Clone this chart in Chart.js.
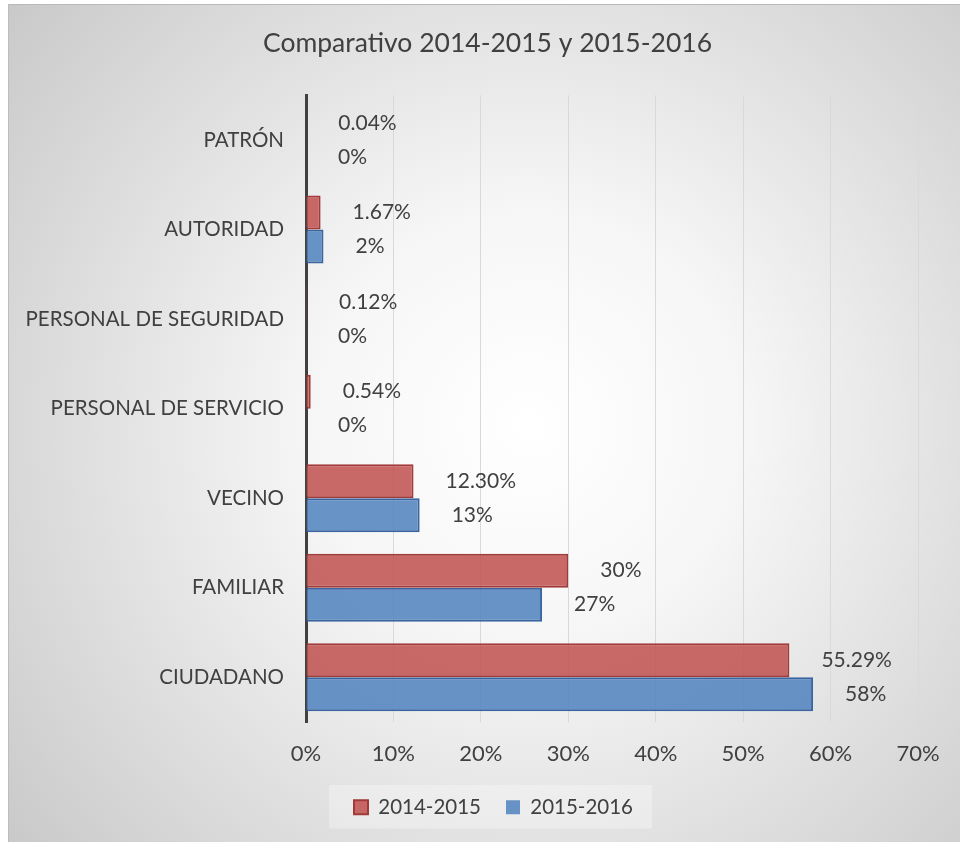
<!DOCTYPE html>
<html lang="es">
<head>
<meta charset="utf-8">
<title>Comparativo 2014-2015 y 2015-2016</title>
<script src="https://cdn.jsdelivr.net/npm/chart.js@4.4.1/dist/chart.umd.min.js"></script>
<style>
  html, body { margin: 0; padding: 0; background: #fff; }
  #wrap {
    position: absolute;
    left: 8px;
    top: 4px;
    width: 952px;
    height: 838px;
    border-top: 1px solid #b9b9b9;
    border-left: 1px solid #bdbdbd;
    box-sizing: border-box;
  }
</style>
</head>
<body>
<div id="wrap"><canvas id="myChart"></canvas></div>
<script>
const categories = ['PATRÓN', 'AUTORIDAD', 'PERSONAL DE SEGURIDAD', 'PERSONAL DE SERVICIO', 'VECINO', 'FAMILIAR', 'CIUDADANO'];
const values2014 = [0.04, 1.67, 0.12, 0.54, 12.30, 30, 55.29];
const values2015 = [0, 2, 0, 0, 13, 27, 58];
const xTicks = [0, 10, 20, 30, 40, 50, 60, 70];

const textColor = '#404040';
const fontFamily = 'Lato, "Open Sans", sans-serif';

function pct(v) {
  return (Number.isInteger(v) ? v : v.toFixed(2)) + '%';
}

// centre title and legend on the whole frame rather than on the space left of the right padding
const recenter = {
  id: 'recenter',
  afterLayout(chart) {
    const move = (box, dx) => {
      if (!box) return;
      box.left += dx;
      box.right += dx;
    };
    move(chart.titleBlock, 24);
    move(chart.legend, 30);
    (chart.legend.legendHitBoxes || []).forEach(b => { b.left += 30; });
  }
};

// soft grey radial fill behind everything, plus the legend panel
const backdrop = {
  id: 'backdrop',
  beforeDraw(chart) {
    const { ctx, width, height } = chart;
    ctx.save();
    const g = ctx.createRadialGradient(520, 420, 0, 520, 420, 720);
    g.addColorStop(0, '#ffffff');
    g.addColorStop(0.3, '#f6f6f6');
    g.addColorStop(1, '#c4c4c4');
    ctx.fillStyle = g;
    ctx.fillRect(0, 0, width, height);

    const boxes = chart.legend.legendHitBoxes;
    if (boxes && boxes.length) {
      const minX = Math.min(...boxes.map(b => b.left));
      const maxX = Math.max(...boxes.map(b => b.left + b.width));
      const top = boxes[0].top;
      const h = boxes[0].height;
      ctx.fillStyle = 'rgba(255,255,255,0.3)';
      ctx.fillRect(minX - 25, top - 12, maxX - minX + 44, h + 23);
    }
    ctx.restore();
  }
};

// value labels to the right of each bar
const barLabels = {
  id: 'barLabels',
  afterDatasetsDraw(chart) {
    const { ctx } = chart;
    ctx.save();
    ctx.font = '21px ' + fontFamily;
    ctx.fillStyle = textColor;
    ctx.textAlign = 'left';
    ctx.textBaseline = 'middle';
    chart.data.datasets.forEach((ds, i) => {
      chart.getDatasetMeta(i).data.forEach((bar, j) => {
        ctx.fillText(pct(ds.data[j]), bar.x + 32, bar.y);
      });
    });
    ctx.restore();
  }
};

function generateChart() {
  const ctx = document.getElementById('myChart');

  new Chart(ctx, {
    type: 'bar',
    data: {
      labels: categories,
      datasets: [{
        label: '2014-2015',
        data: values2014,
        backgroundColor: 'rgba(192, 80, 77, 0.85)',
        borderColor: '#a13a38',
        borderWidth: c => (c.raw ? 2 : 0),
        borderSkipped: 'start'
      }, {
        label: '2015-2016',
        data: values2015,
        backgroundColor: 'rgba(79, 129, 189, 0.85)',
        borderColor: '#3a65a0',
        borderWidth: c => (c.raw ? 2 : 0),
        borderSkipped: 'start'
      }]
    },
    options: {
      indexAxis: 'y',
      responsive: true,
      maintainAspectRatio: false,
      animation: false,
      datasets: {
        bar: { categoryPercentage: 0.76, barPercentage: 1.0 }
      },
      layout: {
        padding: { left: 0, right: 42, top: 0, bottom: 14.5 }
      },
      scales: {
        x: {
          min: 0,
          max: 70,
          afterBuildTicks: scale => {
            scale.ticks = xTicks.map(v => ({ value: v }));
          },
          afterFit: scale => { scale.height = 50; },
          ticks: {
            color: textColor,
            font: { family: fontFamily, size: 22 },
            padding: 19,
            callback: v => v + '%'
          },
          grid: {
            color: '#d9d9d9',
            lineWidth: 1,
            drawTicks: false
          },
          border: { display: false }
        },
        y: {
          afterFit: scale => { scale.width = 297; },
          ticks: {
            color: textColor,
            font: { family: fontFamily, size: 20.5 },
            padding: 22
          },
          grid: { display: false, drawTicks: false },
          border: { color: '#404040', width: 3 }
        }
      },
      plugins: {
        title: {
          display: true,
          text: 'Comparativo 2014-2015 y 2015-2016',
          color: textColor,
          font: { family: fontFamily, size: 26.5, weight: 'normal' },
          padding: { top: 23, bottom: 35.5 }
        },
        legend: {
          position: 'bottom',
          labels: {
            color: textColor,
            font: { family: fontFamily, size: 20.5 },
            boxWidth: 14,
            boxHeight: 14,
            padding: 25
          }
        },
        tooltip: { enabled: false }
      }
    },
    plugins: [recenter, backdrop, barLabels]
  });
}

generateChart();
</script>
</body>
</html>
